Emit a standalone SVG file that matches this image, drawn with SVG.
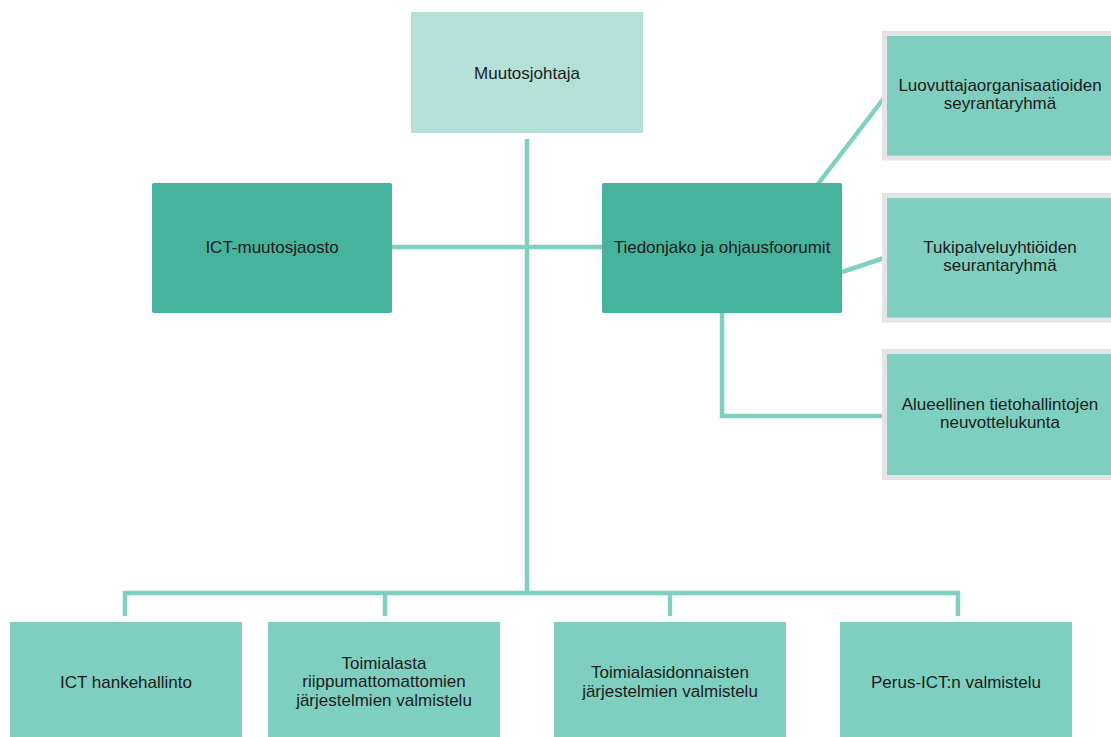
<svg xmlns="http://www.w3.org/2000/svg" width="1111" height="737" viewBox="0 0 1111 737">
<style>
  .t { font-family: "Liberation Sans", Arial, sans-serif; font-size: 17px; fill: #1c1c1c; text-anchor: middle; }
  .top { fill: #b3e1d8; }
  .dark { fill: #46b39d; }
  .light { fill: #7ecfc0; }
  .side { fill: #7ecfc0; stroke: #e4e4e4; stroke-width: 5; }
  .ln { fill: none; stroke: #80d0c1; stroke-width: 4.5; }
</style>
<rect width="1111" height="737" fill="#ffffff"/>
<g id="connectors">
  <line class="ln" x1="527" y1="139" x2="527" y2="595"/>
  <line class="ln" x1="392" y1="247" x2="602" y2="247"/>
  <polyline class="ln" points="125,616 125,593 958,593 958,616"/>
  <line class="ln" x1="385" y1="593" x2="385" y2="616"/>
  <line class="ln" x1="670" y1="593" x2="670" y2="616"/>
  <line class="ln" x1="818" y1="184" x2="884" y2="98"/>
  <line class="ln" x1="842" y1="272" x2="884" y2="258"/>
  <polyline class="ln" points="722,313 722,416 884,416"/>
</g>
<g id="muutosjohtaja">
  <rect class="top" x="411" y="12" width="232" height="121"/>
  <text class="t" x="527" y="79">Muutosjohtaja</text>
</g>
<g id="ict-muutosjaosto">
  <rect class="dark" x="152" y="183" width="240" height="130" rx="2"/>
  <text class="t" x="272" y="253">ICT-muutosjaosto</text>
</g>
<g id="tiedonjako">
  <rect class="dark" x="602" y="183" width="240" height="130" rx="2"/>
  <text class="t" x="722" y="253">Tiedonjako ja ohjausfoorumit</text>
</g>
<g id="luovuttaja">
  <rect class="side" x="884.5" y="33.5" width="232" height="124.5"/>
  <text class="t" x="1000" y="91">Luovuttajaorganisaatioiden</text>
  <text class="t" x="1000" y="109">seyrantaryhmä</text>
</g>
<g id="tukipalvelu">
  <rect class="side" x="884.5" y="195.5" width="232" height="124.5"/>
  <text class="t" x="1000" y="253">Tukipalveluyhtiöiden</text>
  <text class="t" x="1000" y="271">seurantaryhmä</text>
</g>
<g id="alueellinen">
  <rect class="side" x="884.5" y="351.5" width="232" height="126"/>
  <text class="t" x="1000" y="410">Alueellinen tietohallintojen</text>
  <text class="t" x="1000" y="428">neuvottelukunta</text>
</g>
<g id="ict-hankehallinto">
  <rect class="light" x="10" y="622" width="232" height="120"/>
  <text class="t" x="126" y="688">ICT hankehallinto</text>
</g>
<g id="toimialasta">
  <rect class="light" x="268" y="622" width="232" height="120"/>
  <text class="t" x="384" y="669">Toimialasta</text>
  <text class="t" x="384" y="687">riippumattomattomien</text>
  <text class="t" x="384" y="706">järjestelmien valmistelu</text>
</g>
<g id="toimialasidonnaisten">
  <rect class="light" x="554" y="622" width="232" height="120"/>
  <text class="t" x="670" y="678">Toimialasidonnaisten</text>
  <text class="t" x="670" y="697">järjestelmien valmistelu</text>
</g>
<g id="perus-ict">
  <rect class="light" x="840" y="622" width="232" height="120"/>
  <text class="t" x="956" y="688">Perus-ICT:n valmistelu</text>
</g>
</svg>
